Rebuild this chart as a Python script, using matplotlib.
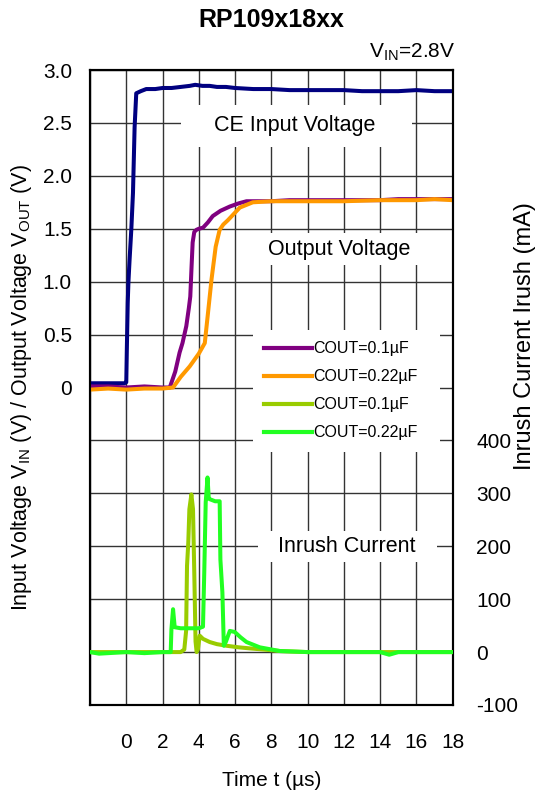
import matplotlib
matplotlib.use("Agg")
import matplotlib.pyplot as plt
from matplotlib.patches import Rectangle

plt.rcParams['font.family'] = ['Liberation Sans', 'DejaVu Sans']
plt.rcParams['mathtext.fontset'] = 'custom'
plt.rcParams['mathtext.rm'] = 'Liberation Sans'
plt.rcParams['mathtext.it'] = 'Liberation Sans'

# ---------------- data ----------------
t_ce = [-2, -1.5, -1, -0.5, -0.1, 0, 0.03, 0.08, 0.12, 0.18, 0.28, 0.37, 0.46, 0.55, 0.8, 1.1, 1.6,
        2.0, 2.5, 3.0, 3.5, 3.8, 4.2, 4.6, 5.0, 5.5, 6.0, 7.0, 8.0, 9.0, 10, 11, 12, 13, 14, 15, 16, 17, 18]
v_ce = [0.04, 0.04, 0.04, 0.04, 0.04, 0.05, 0.35, 0.8, 1.0, 1.2, 1.5, 1.84, 2.46, 2.78, 2.80, 2.82, 2.82,
        2.83, 2.83, 2.84, 2.85, 2.86, 2.85, 2.85, 2.84, 2.84, 2.83, 2.82, 2.82, 2.81, 2.81, 2.81, 2.81,
        2.80, 2.80, 2.80, 2.81, 2.80, 2.80]

t_out1 = [-2, -1, 0, 1, 2, 2.4, 2.7, 2.94, 3.1, 3.31, 3.45, 3.53, 3.6, 3.66, 3.75, 3.87, 4.0, 4.23,
          4.5, 4.77, 5.2, 5.71, 6.2, 6.63, 7.5, 8, 9, 10, 12, 14, 15, 16, 17, 18]
v_out1 = [0.01, 0.01, 0.0, 0.01, 0.0, 0.0, 0.15, 0.33, 0.42, 0.58, 0.75, 0.86, 1.14, 1.37, 1.47, 1.49,
          1.50, 1.51, 1.56, 1.62, 1.67, 1.71, 1.74, 1.76, 1.76, 1.76, 1.77, 1.77, 1.77, 1.77, 1.78,
          1.78, 1.78, 1.78]

t_out2 = [-2, -1, 0, 1, 2, 2.58, 3.0, 3.5, 4.0, 4.33, 4.51, 4.7, 4.93, 5.15, 5.35, 5.6, 6.26, 6.98,
          8, 9, 10, 12, 14, 16, 17, 18]
v_out2 = [-0.02, -0.01, -0.02, -0.01, -0.01, 0.0, 0.1, 0.2, 0.32, 0.42, 0.71, 1.02, 1.33, 1.49, 1.54,
          1.58, 1.70, 1.75, 1.76, 1.76, 1.76, 1.76, 1.77, 1.77, 1.78, 1.77]

t_in1 = [-2, 0, 2, 3.0, 3.2, 3.3, 3.35, 3.42, 3.48, 3.59, 3.68, 3.75, 3.82, 3.88, 3.95, 4.05, 4.23,
         4.6, 5.0, 5.52, 6.2, 6.81, 7.5, 8.47, 10, 12, 14, 16, 18]
i_in1 = [0, 0, 0, 0, 5, 40, 163, 207, 270, 298, 270, 150, 20, 0, 5, 31, 25, 19, 15, 12, 9, 7, 5, 2,
         0, 0, 0, 0, 0]

t_in2 = [-2, -1.5, -1, 0, 1, 2, 2.45, 2.49, 2.58, 2.67, 3.0, 3.5, 4.0, 4.23, 4.3, 4.38, 4.48, 4.55,
         4.6, 4.9, 5.15, 5.19, 5.3, 5.38, 5.5, 5.71, 5.98, 6.3, 6.63, 7.36, 8.47, 10, 12, 14, 14.5,
         15, 16, 18]
i_in2 = [0, -3, -2, 0, -2, 0, 0, 43, 81, 47, 45, 45, 45, 48, 150, 283, 330, 290, 289, 285, 285, 175,
         113, 12, 20, 40, 38, 28, 19, 9, 2, 0, 0, 0, -5, 0, 0, 0]

x_ticks = [0, 2, 4, 6, 8, 10, 12, 14, 16, 18]
v_ticks = [0, 0.5, 1.0, 1.5, 2.0, 2.5, 3.0]
v_tick_labels = ['0', '0.5', '1.0', '1.5', '2.0', '2.5', '3.0']
i_ticks = [-100, 0, 100, 200, 300, 400]
labels = ['COUT=0.1µF', 'COUT=0.22µF', 'COUT=0.1µF', 'COUT=0.22µF']

# ---------------- figure ----------------
fig = plt.figure(figsize=(5.38, 7.92), dpi=100)
L, R, T, B = 90 / 538, 452.7 / 538, 1 - 70 / 792, 1 - 705 / 792
ax = fig.add_axes([L, B, R - L, T - B])
ax.set_xlim(-2, 18)
ax.set_ylim(-3, 3)

grid_y = [-3 + 0.5 * k for k in range(13)]
ax.set_yticks(grid_y)
ax.set_yticklabels([v_tick_labels[v_ticks.index(g)] if g in v_ticks else '' for g in grid_y])
ax.set_xticks([-2] + x_ticks)
ax.set_xticklabels([''] + [str(x) for x in x_ticks])
ax.tick_params(length=0, labelsize=15)
ax.tick_params(axis='y', pad=13)
ax.tick_params(axis='x', pad=20)
ax.grid(True, color='#333333', linewidth=1.0)
ax.set_axisbelow(True)
for s in ax.spines.values():
    s.set_linewidth(1.5)

LW = 2.9
ax.plot(t_ce, v_ce, color='#000080', lw=LW, zorder=4)
l1, = ax.plot(t_out1, v_out1, color='#800080', lw=LW, zorder=4)
l2, = ax.plot(t_out2, v_out2, color='#FF9900', lw=LW, zorder=5)

ax2 = ax.twinx()
ax2.set_ylim(-100, 1100)
ax2.set_yticks(i_ticks)
ax2.set_yticklabels([str(v) for v in i_ticks])
ax2.tick_params(length=0, labelsize=15, pad=17)
for s in ax2.spines.values():
    s.set_linewidth(1.5)
l3, = ax2.plot(t_in1, i_in1, color='#99CC00', lw=LW, zorder=4)
l4, = ax2.plot(t_in2, i_in2, color='#22FF22', lw=LW, zorder=5)

# white label boxes (px -> axes fraction)
def fx(px):
    return (px - 90) / 362.7

def fy(py):
    return (705 - py) / 635

def box(px0, py0, px1, py1):
    ax.add_patch(Rectangle((fx(px0), fy(py1)), fx(px1) - fx(px0), fy(py0) - fy(py1),
                           transform=ax.transAxes, facecolor='white', edgecolor='none', zorder=2))

box(181, 105, 412, 147)
box(255, 233, 430, 265)
box(258, 531, 437, 562)

ax.text(fx(295), fy(125), 'CE Input Voltage', transform=ax.transAxes,
        ha='center', va='center', fontsize=15.5, zorder=3)
ax.text(fx(339), fy(249), 'Output Voltage', transform=ax.transAxes,
        ha='center', va='center', fontsize=15.5, zorder=3)
ax.text(fx(347), fy(547), 'Inrush Current', transform=ax.transAxes,
        ha='center', va='center', fontsize=15.5, zorder=3)

leg = ax2.legend([l1, l2, l3, l4], labels, loc='upper left',
                 bbox_to_anchor=(fx(253), fy(447), fx(440) - fx(253), fy(330) - fy(447)),
                 mode='expand', frameon=True, fancybox=False, edgecolor='none', facecolor='white',
                 framealpha=1, fontsize=11.5, handlelength=3.0, handletextpad=0.05,
                 labelspacing=0.82, borderpad=0.7, borderaxespad=0)
leg.set_zorder(10)
for ln in leg.get_lines():
    ln.set_linewidth(3.0)

ax.set_xlabel('Time t (µs)', fontsize=15, labelpad=14)
ax.set_ylabel(r'Input Voltage V$_{\rm IN}$ (V) / Output Voltage V$_{\rm OUT}$ (V)', fontsize=15.5,
              labelpad=6)
fig.text(525 / 538, 1 - 336 / 792, 'Inrush Current Irush (mA)', rotation=90, ha='center',
         va='center', fontsize=17)
fig.text(271 / 538, 1 - 20 / 792, 'RP109x18xx', ha='center', va='center', fontsize=18,
         fontweight='bold')
fig.text(455 / 538, 1 - 52 / 792, r'V$_{\rm IN}$=2.8V', ha='right', va='center', fontsize=15)

fig.savefig('out.png', dpi=100)
